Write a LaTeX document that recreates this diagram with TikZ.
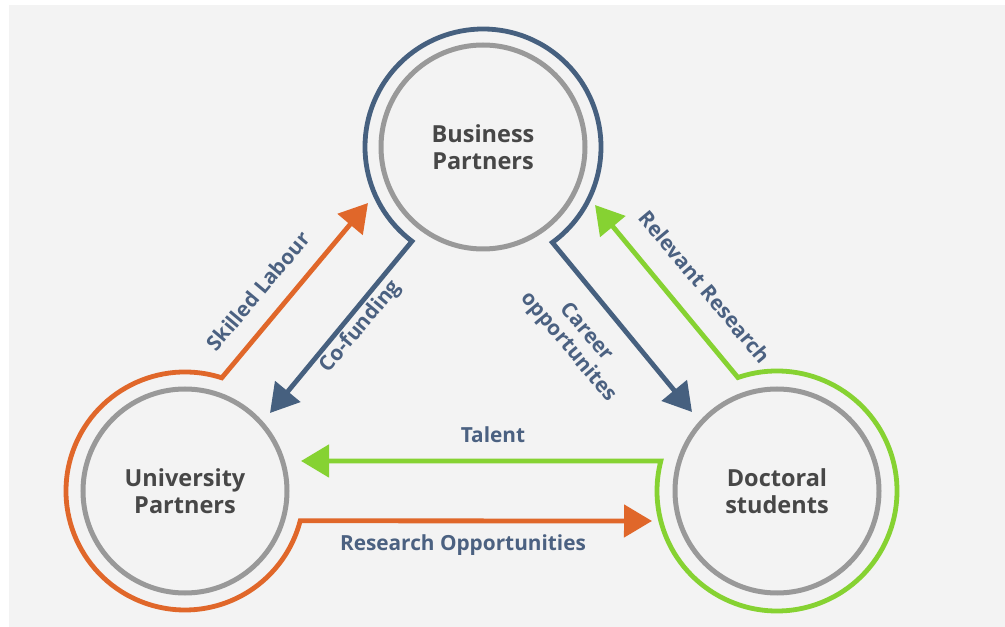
\documentclass[tikz,border=0pt]{standalone}
\usepackage{fontspec}
\setmainfont{Open Sans}
\usepackage{tikz}
\usetikzlibrary{calc,arrows.meta,positioning}

\definecolor{ringblue}{HTML}{46607F}
\definecolor{ringorange}{HTML}{E0672A}
\definecolor{ringgreen}{HTML}{86D232}
\definecolor{ringgray}{HTML}{999999}
\definecolor{labelblue}{HTML}{4B6181}
\definecolor{panel}{HTML}{F3F3F3}

\tikzset{
  partner/.style={circle, draw=ringgray, line width=5pt, minimum size=204pt,
                  inner sep=0pt, align=center, text=black!72,
                  font=\bfseries\fontsize{23.5}{27}\selectfont},
  flowboth/.style={line width=4.8pt,
                   {Triangle[length=28pt,width=32pt]}-{Triangle[length=28pt,width=32pt]}},
  flowlabel/.style={text=labelblue, align=center, inner sep=0pt,
                    font=\bfseries\fontsize{20.8}{23}\selectfont}
}

\begin{document}
\begin{tikzpicture}[x=1pt,y=1pt]
\fill[white] (0,0) rectangle (1005,627);
\fill[panel] (9,0) rectangle (1005,622);
\useasboundingbox (0,0) rectangle (1005,627);
%
\node[partner] (bp) at (483,480) {Business\\Partners};
\node[partner] (up) at (185,136) {University\\Partners};
\node[partner] (ds) at (777,136) {Doctoral\\students};
%
% arrow tips
\coordinate (cofund)  at (270,214);
\coordinate (career)  at (692,215);
\coordinate (skilled) at (368,424);
\coordinate (resopp)  at (652,106);
\coordinate (relres)  at (595,422);
\coordinate (talent)  at (301,166);
%
\draw[flowboth, ringblue] (cofund) -- ($(bp)+(233:118)$)
     arc[start angle=233, end angle=-54, radius=118] -- (career);
\draw[flowboth, ringorange] (skilled) -- ($(up)+(72:119)$)
     arc[start angle=72, end angle=345.5, radius=119] -- (resopp);
\draw[flowboth, ringgreen] (relres) -- ($(ds)+(109:120)$)
     arc[start angle=109, end angle=-194.5, radius=120] -- (talent);
%
\node[flowlabel, rotate=50]  (skilledlbl) at (258,336) {Skilled Labour};
\node[flowlabel, rotate=50]  (cofundlbl)  at (361,300) {Co-funding};
\node[flowlabel, rotate=-50] (relreslbl)  at (705,340) {Relevant Research};
\node[flowlabel, rotate=-50] (careerlbl)  at (577,287) {Career\\opportunites};
\node[flowlabel] (talentlbl) at (493,192) {Talent};
\node[flowlabel] (resopplbl) at (463,82) {Research Opportunities};
%
\end{tikzpicture}
\end{document}
